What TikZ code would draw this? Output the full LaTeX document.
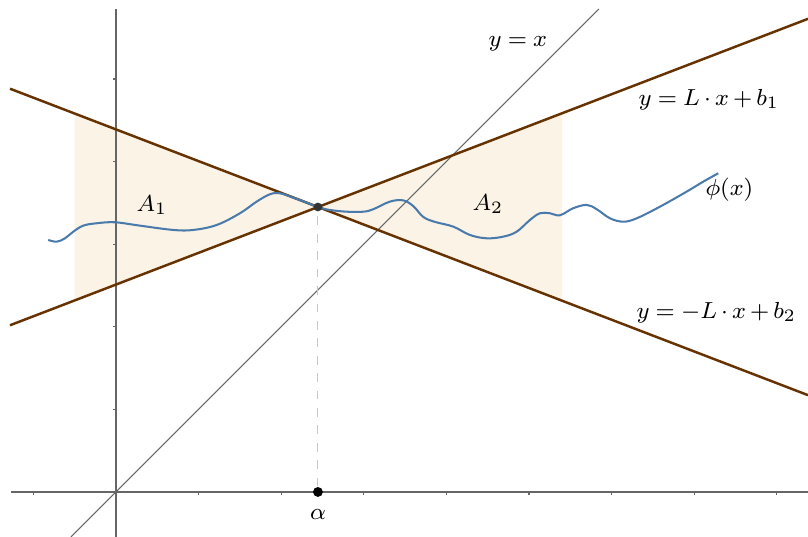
\documentclass[tikz,border=0pt]{standalone}
\usepackage{tikz}
\usetikzlibrary{positioning, calc}
\usepackage{amsmath}
\usepackage{xcolor}
\definecolor{lipbrown}{HTML}{663300}
\definecolor{lipblue}{HTML}{4A7AAB}
\definecolor{lipbeige}{HTML}{FAF3E6}
\definecolor{lipaxis}{HTML}{666666}
\definecolor{lipdash}{HTML}{C8C8C8}

\begin{document}
\begin{tikzpicture}[x=1cm, y=1cm, font={\fontsize{8.4}{10}\selectfont\thickmuskip=4.5mu\medmuskip=3mu}]
        \useasboundingbox (-1.404,-0.545) rectangle (8.378,5.956);
        \coordinate (P) at (2.445,3.45);
        % shaded areas between the two lines
        \fill[lipbeige] (-0.5,4.581) -- (P) -- (-0.5,2.319) -- cycle;
        \fill[lipbeige] (5.4,4.585) -- (P) -- (5.4,2.315) -- cycle;
        % axes
        \draw[lipaxis, line width=0.5pt] (-1.271,0) -- (8.378,0);
        \draw[lipaxis, line width=0.5pt] (0,-0.545) -- (0,5.847);
        \foreach \t in {-1,1,2,...,8}
          \draw[lipaxis, line width=0.4pt] (\t,0) -- (\t,-0.035);
        \foreach \t in {1,...,5}
          \draw[lipaxis, line width=0.4pt] (0,\t) -- (-0.035,\t);
        \draw[lipaxis, line width=0.35pt] (-0.545,-0.545) -- (5.847,5.847);
        \draw[lipbrown, line width=0.85pt] (-1.283,2.018) -- (8.378,5.728);
        \draw[lipbrown, line width=0.85pt] (-1.283,4.882) -- (8.378,1.172);
        \draw[lipblue, line width=0.7pt] plot[smooth, tension=0.6] coordinates {
          (-0.820,3.051) (-0.718,3.030) (-0.617,3.071) (-0.517,3.151) (-0.396,3.224)
          (-0.234,3.253) (-0.012,3.265) (0.291,3.224) (0.694,3.172) (0.936,3.172)
          (1.219,3.232) (1.501,3.374) (1.703,3.515) (1.864,3.604) (1.985,3.616)
          (2.147,3.563) (2.309,3.503) (2.449,3.447) (2.591,3.414) (2.793,3.393)
          (2.994,3.393) (3.115,3.423) (3.317,3.515) (3.478,3.530) (3.600,3.460)
          (3.720,3.330) (3.860,3.270) (4.084,3.212) (4.286,3.111) (4.488,3.071)
          (4.689,3.091) (4.851,3.151) (5.012,3.293) (5.133,3.374) (5.254,3.374)
          (5.375,3.350) (5.536,3.435) (5.699,3.475) (5.820,3.423) (5.981,3.313)
          (6.142,3.272) (6.304,3.313) (6.586,3.454) (6.909,3.636) (7.110,3.757)
          (7.292,3.858)};
        \node[circle, fill=black, inner sep=0pt, minimum size=3.4pt] (alpha) at (2.445,0) {};
        \node[circle, fill=black!80, inner sep=0pt, minimum size=3pt] (meet) at (P) {};
        \draw[lipdash, dashed, line width=0.35pt] (alpha) -- (meet);
        \node (lblalpha) at (2.445,-0.278) {$\alpha$};
        \node[anchor=west, inner sep=0pt] (lblyx) at (4.504,5.424) {$y = x$};
        \node[anchor=west, inner sep=0pt] (lblpos) at (6.320,4.746) {$y = L \cdot x + b_1$};
        \node[anchor=west, inner sep=0pt] (lblphi) at (7.131,3.656) {$\phi(x)$};
        \node[anchor=west, inner sep=0pt] (lblneg) at (6.295,2.167) {$y = -L \cdot x + b_2$};
        \node (lblAone) at (0.436,3.475) {$A_1$};
        \node (lblAtwo) at (4.504,3.487) {$A_2$};
      \end{tikzpicture}
\end{document}
